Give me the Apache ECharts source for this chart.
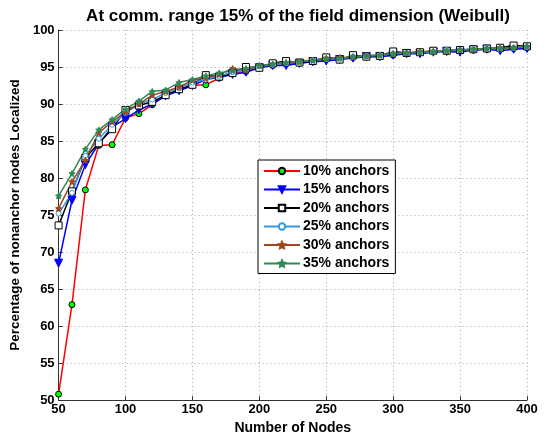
<!DOCTYPE html>
<html>
<head>
<meta charset="utf-8">
<script src="https://cdn.jsdelivr.net/npm/echarts@6/dist/echarts.min.js"></script>
<style>
  html, body { margin: 0; padding: 0; background: #fff; }
  #chart { width: 549px; height: 440px; }
</style>
</head>
<body>
<div id="chart"></div>
<script>
// node counts 50..400
var nodes = [50, 60, 70, 80, 90, 100, 110, 120, 130, 140, 150, 160, 170, 180, 190, 200, 210, 220,
  230, 240, 250, 260, 270, 280, 290, 300, 310, 320, 330, 340, 350, 360, 370, 380, 390, 400]

var a10 = [50.8, 62.9, 78.4, 84.4, 84.5, 88.1, 88.7, 89.9, 91.3, 91.9, 92.5, 92.6, 93.5, 94.2, 94.4, 95.0, 95.2, 95.4,
  95.5, 95.8, 96.0, 96.1, 96.3, 96.4, 96.5, 96.6, 96.9, 97.0, 97.1, 97.2, 97.2, 97.3, 97.4, 97.5, 97.5, 97.6]
var a15 = [68.5, 77.0, 81.8, 84.6, 86.9, 88.0, 89.2, 90.0, 91.1, 91.8, 92.5, 93.3, 93.6, 94.0, 94.3, 94.9, 95.2, 95.2,
  95.5, 95.7, 95.8, 96.0, 96.2, 96.4, 96.4, 96.6, 96.8, 96.8, 97.0, 97.1, 97.0, 97.3, 97.4, 97.2, 97.4, 97.5]
var a20 = [73.6, 78.2, 82.7, 84.7, 86.6, 89.2, 89.8, 90.3, 91.2, 92.0, 92.6, 93.9, 93.7, 94.2, 95.0, 94.9, 95.5, 95.8,
  95.6, 95.8, 96.3, 96.0, 96.6, 96.4, 96.5, 97.1, 96.9, 97.0, 97.2, 97.2, 97.3, 97.4, 97.5, 97.6, 97.9, 97.8]
var a25 = [75.2, 78.0, 83.0, 85.3, 87.2, 88.8, 90.0, 90.6, 91.5, 92.1, 92.9, 93.3, 93.8, 94.3, 94.6, 95.1, 95.3, 95.5,
  95.7, 95.9, 96.1, 96.1, 96.4, 96.5, 96.6, 96.8, 96.9, 97.0, 97.1, 97.3, 97.3, 97.4, 97.5, 97.5, 97.6, 97.7]
var a30 = [75.9, 79.5, 82.4, 86.1, 87.6, 88.9, 90.0, 91.2, 91.7, 92.3, 93.2, 93.5, 94.0, 94.8, 94.6, 95.2, 95.4, 95.6,
  95.8, 95.9, 96.2, 96.3, 96.3, 96.6, 96.6, 96.8, 96.9, 97.1, 97.1, 97.2, 97.3, 97.4, 97.5, 97.6, 97.6, 97.8]
var a35 = [77.6, 80.6, 83.9, 86.5, 87.9, 89.3, 90.4, 91.7, 91.9, 92.9, 93.3, 93.8, 94.2, 94.5, 94.8, 95.2, 95.4, 95.6,
  95.7, 95.9, 96.1, 96.2, 96.4, 96.5, 96.6, 96.8, 96.9, 97.0, 97.1, 97.2, 97.3, 97.4, 97.5, 97.5, 97.6, 97.8]

var names = ['10% anchors', '15% anchors', '20% anchors', '25% anchors', '30% anchors', '35% anchors']
var starPath = 'path://M0,-10L2.9,-4L9.5,-3.1L4.8,1.5L5.9,8.1L0,5L-5.9,8.1L-4.8,1.5L-9.5,-3.1L-2.9,-4Z'

function pairs(ys) {
  return nodes.map(function (n, i) { return [n, ys[i]] })
}

function line(name, ys, color, symbol, size, fill, border, rotate) {
  return {
    name: name,
    type: 'line',
    data: pairs(ys),
    symbol: symbol,
    symbolSize: size,
    symbolRotate: rotate || 0,
    showAllSymbol: true,
    lineStyle: { color: color, width: 1.5 },
    itemStyle: { color: fill, borderColor: border, borderWidth: 1 },
    emphasis: { disabled: true },
    animation: false
  }
}

var font = 'Liberation Sans, Arial, sans-serif'
var chart = echarts.init(document.getElementById('chart'))
chart.setOption({
  backgroundColor: '#fff',
  title: {
    text: 'At comm. range 15% of the field dimension (Weibull)',
    left: 293, top: 3, textAlign: 'center',
    textStyle: { fontFamily: font, fontSize: 17, fontWeight: 'bold', color: '#000' }
  },
  grid: { left: 58, right: 22, top: 30, bottom: 39 },
  legend: {
    orient: 'vertical',
    left: 258, top: 160,
    backgroundColor: '#fff',
    borderColor: '#000',
    borderWidth: 1,
    padding: [3, 6, 2, 5],
    itemWidth: 36, itemHeight: 8, itemGap: 2.5,
    textStyle: { fontFamily: font, fontSize: 14, fontWeight: 'bold', color: '#000', lineHeight: 16, padding: [0, 0, 0, -2] },
    data: names
  },
  xAxis: {
    type: 'value', min: 50, max: 400, interval: 50,
    name: 'Number of Nodes', nameLocation: 'middle', nameGap: 20,
    nameTextStyle: { fontFamily: font, fontSize: 14, fontWeight: 'bold', color: '#000' },
    axisLine: { lineStyle: { color: '#333' } },
    axisTick: { inside: true, length: 4, lineStyle: { color: '#333' } },
    axisLabel: { fontFamily: font, fontSize: 13, fontWeight: 'bold', color: '#000', margin: 3 },
    splitLine: { show: true, lineStyle: { color: '#aaa', type: [1, 3] } }
  },
  yAxis: {
    type: 'value', min: 50, max: 100, interval: 5,
    name: 'Percentage of nonanchor nodes Localized', nameLocation: 'middle', nameGap: 35,
    nameTextStyle: { fontFamily: font, fontSize: 13.5, fontWeight: 'bold', color: '#000' },
    axisLine: { show: true, lineStyle: { color: '#333' } },
    axisTick: { show: true, inside: true, length: 4, lineStyle: { color: '#333' } },
    axisLabel: { fontFamily: font, fontSize: 13, fontWeight: 'bold', color: '#000', margin: 4 },
    splitLine: { show: true, lineStyle: { color: '#aaa', type: [1, 3] } }
  },
  series: [
    line(names[0], a10, '#ff0000', 'circle', 6, '#00ff00', '#000'),
    line(names[1], a15, '#0000ff', 'triangle', 8, '#0000ff', '#0000ff', 180),
    line(names[2], a20, '#000000', 'rect', 7, '#fff', '#000'),
    line(names[3], a25, '#3399dd', 'circle', 5, '#fff', '#3399dd'),
    line(names[4], a30, '#a0461e', starPath, 6, '#a0461e', '#a0461e'),
    line(names[5], a35, '#2e8b57', starPath, 6, '#2e8b57', '#2e8b57')
  ]
})
</script>
</body>
</html>
